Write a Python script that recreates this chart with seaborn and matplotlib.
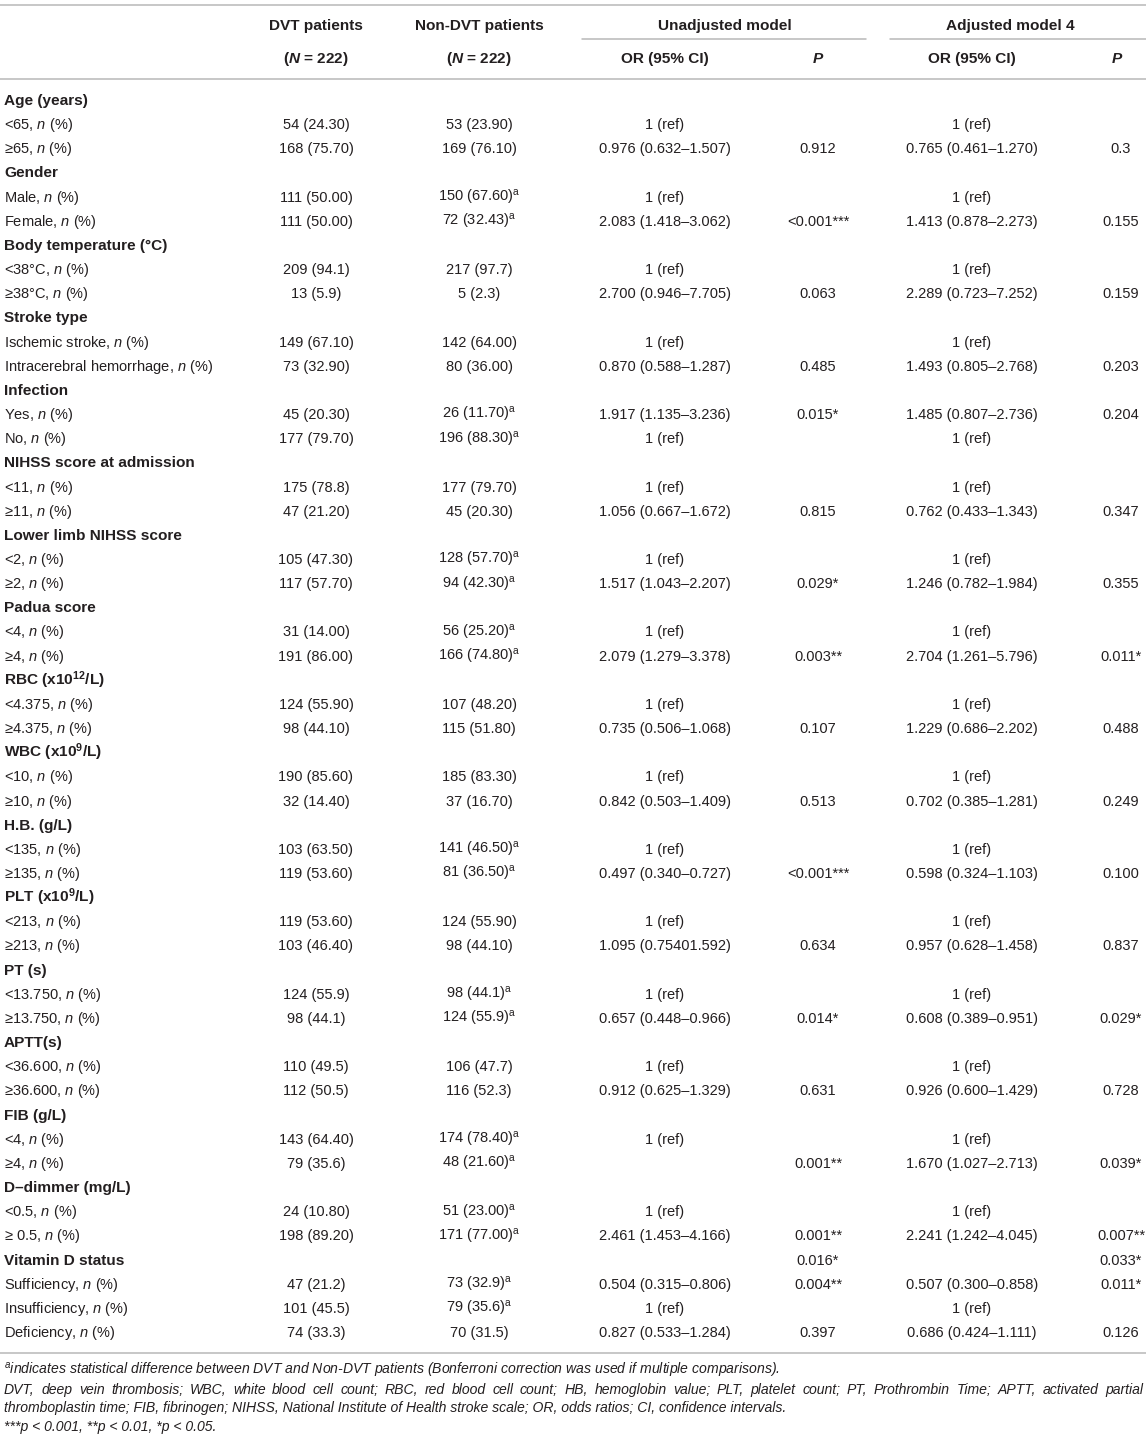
import matplotlib
matplotlib.use("Agg")
import matplotlib.pyplot as plt
import seaborn as sns

# table content, one entry per row
labels = ["Age (years)", "<65", "≥65",
          "Gender", "Male", "Female",
          "Body temperature (°C)", "<38°C", "≥38°C",
          "Stroke type", "Ischemic stroke", "Intracerebral hemorrhage",
          "Infection", "Yes", "No",
          "NIHSS score at admission", "<11", "≥11",
          "Lower limb NIHSS score", "<2", "≥2",
          "Padua score", "<4", "≥4",
          r"RBC (x10$^{\mathbf{12}}$/L)", "<4.375", "≥4.375",
          r"WBC (x10$^{\mathbf{9}}$/L)", "<10", "≥10",
          "H.B. (g/L)", "<135", "≥135",
          r"PLT (x10$^{\mathbf{9}}$/L)", "<213", "≥213",
          "PT (s)", "<13.750", "≥13.750",
          "APTT(s)", "<36.600", "≥36.600",
          "FIB (g/L)", "<4", "≥4",
          "D–dimmer (mg/L)", "<0.5", "≥ 0.5",
          "Vitamin D status", "Sufficiency", "Insufficiency", "Deficiency"]

is_group = [1, 0, 0, 1, 0, 0, 1, 0, 0, 1, 0, 0, 1, 0, 0, 1, 0, 0,
            1, 0, 0, 1, 0, 0, 1, 0, 0, 1, 0, 0, 1, 0, 0, 1, 0, 0,
            1, 0, 0, 1, 0, 0, 1, 0, 0, 1, 0, 0, 1, 0, 0, 0]

dvt = ["", "54 (24.30)", "168 (75.70)",
       "", "111 (50.00)", "111 (50.00)",
       "", "209 (94.1)", "13 (5.9)",
       "", "149 (67.10)", "73 (32.90)",
       "", "45 (20.30)", "177 (79.70)",
       "", "175 (78.8)", "47 (21.20)",
       "", "105 (47.30)", "117 (57.70)",
       "", "31 (14.00)", "191 (86.00)",
       "", "124 (55.90)", "98 (44.10)",
       "", "190 (85.60)", "32 (14.40)",
       "", "103 (63.50)", "119 (53.60)",
       "", "119 (53.60)", "103 (46.40)",
       "", "124 (55.9)", "98 (44.1)",
       "", "110 (49.5)", "112 (50.5)",
       "", "143 (64.40)", "79 (35.6)",
       "", "24 (10.80)", "198 (89.20)",
       "", "47 (21.2)", "101 (45.5)", "74 (33.3)"]

non_dvt = ["", "53 (23.90)", "169 (76.10)",
           "", "150 (67.60)", "72 (32.43)",
           "", "217 (97.7)", "5 (2.3)",
           "", "142 (64.00)", "80 (36.00)",
           "", "26 (11.70)", "196 (88.30)",
           "", "177 (79.70)", "45 (20.30)",
           "", "128 (57.70)", "94 (42.30)",
           "", "56 (25.20)", "166 (74.80)",
           "", "107 (48.20)", "115 (51.80)",
           "", "185 (83.30)", "37 (16.70)",
           "", "141 (46.50)", "81 (36.50)",
           "", "124 (55.90)", "98 (44.10)",
           "", "98 (44.1)", "124 (55.9)",
           "", "106 (47.7)", "116 (52.3)",
           "", "174 (78.40)", "48 (21.60)",
           "", "51 (23.00)", "171 (77.00)",
           "", "73 (32.9)", "79 (35.6)", "70 (31.5)"]

# superscript a = significant difference DVT vs non-DVT
diff_a = [0, 0, 0, 0, 1, 1, 0, 0, 0, 0, 0, 0, 0, 1, 1, 0, 0, 0,
          0, 1, 1, 0, 1, 1, 0, 0, 0, 0, 0, 0, 0, 1, 1, 0, 0, 0,
          0, 1, 1, 0, 0, 0, 0, 1, 1, 0, 1, 1, 0, 1, 1, 0]

unadj_or = ["", "1 (ref)", "0.976 (0.632–1.507)",
            "", "1 (ref)", "2.083 (1.418–3.062)",
            "", "1 (ref)", "2.700 (0.946–7.705)",
            "", "1 (ref)", "0.870 (0.588–1.287)",
            "", "1.917 (1.135–3.236)", "1 (ref)",
            "", "1 (ref)", "1.056 (0.667–1.672)",
            "", "1 (ref)", "1.517 (1.043–2.207)",
            "", "1 (ref)", "2.079 (1.279–3.378)",
            "", "1 (ref)", "0.735 (0.506–1.068)",
            "", "1 (ref)", "0.842 (0.503–1.409)",
            "", "1 (ref)", "0.497 (0.340–0.727)",
            "", "1 (ref)", "1.095 (0.75401.592)",
            "", "1 (ref)", "0.657 (0.448–0.966)",
            "", "1 (ref)", "0.912 (0.625–1.329)",
            "", "1 (ref)", "",
            "", "1 (ref)", "2.461 (1.453–4.166)",
            "", "0.504 (0.315–0.806)", "1 (ref)", "0.827 (0.533–1.284)"]

unadj_p = ["", "", "0.912",
           "", "", "<0.001***",
           "", "", "0.063",
           "", "", "0.485",
           "", "0.015*", "",
           "", "", "0.815",
           "", "", "0.029*",
           "", "", "0.003**",
           "", "", "0.107",
           "", "", "0.513",
           "", "", "<0.001***",
           "", "", "0.634",
           "", "", "0.014*",
           "", "", "0.631",
           "", "", "0.001**",
           "", "", "0.001**",
           "0.016*", "0.004**", "", "0.397"]

adj_or = ["", "1 (ref)", "0.765 (0.461–1.270)",
          "", "1 (ref)", "1.413 (0.878–2.273)",
          "", "1 (ref)", "2.289 (0.723–7.252)",
          "", "1 (ref)", "1.493 (0.805–2.768)",
          "", "1.485 (0.807–2.736)", "1 (ref)",
          "", "1 (ref)", "0.762 (0.433–1.343)",
          "", "1 (ref)", "1.246 (0.782–1.984)",
          "", "1 (ref)", "2.704 (1.261–5.796)",
          "", "1 (ref)", "1.229 (0.686–2.202)",
          "", "1 (ref)", "0.702 (0.385–1.281)",
          "", "1 (ref)", "0.598 (0.324–1.103)",
          "", "1 (ref)", "0.957 (0.628–1.458)",
          "", "1 (ref)", "0.608 (0.389–0.951)",
          "", "1 (ref)", "0.926 (0.600–1.429)",
          "", "1 (ref)", "1.670 (1.027–2.713)",
          "", "1 (ref)", "2.241 (1.242–4.045)",
          "", "0.507 (0.300–0.858)", "1 (ref)", "0.686 (0.424–1.111)"]

adj_p = ["", "", "0.3",
         "", "", "0.155",
         "", "", "0.159",
         "", "", "0.203",
         "", "0.204", "",
         "", "", "0.347",
         "", "", "0.355",
         "", "", "0.011*",
         "", "", "0.488",
         "", "", "0.249",
         "", "", "0.100",
         "", "", "0.837",
         "", "", "0.029*",
         "", "", "0.728",
         "", "", "0.039*",
         "", "", "0.007**",
         "0.033*", "0.011*", "", "0.126"]

footnotes = [
    r"$^{a}$indicates statistical difference between DVT and Non-DVT patients (Bonferroni correction was used if multiple comparisons).",
    "DVT, deep vein thrombosis; WBC, white blood cell count; RBC, red blood cell count; HB, hemoglobin value; PLT, platelet count; PT, Prothrombin Time; APTT, activated partial",
    "thromboplastin time; FIB, fibrinogen; NIHSS, National Institute of Health stroke scale; OR, odds ratios; CI, confidence intervals.",
    "***p < 0.001, **p < 0.01, *p < 0.05.",
]

sns.set_theme(style="white")
plt.rcParams["font.family"] = ["Liberation Sans", "DejaVu Sans"]
plt.rcParams["mathtext.fontset"] = "custom"
plt.rcParams["mathtext.rm"] = "Liberation Sans"
plt.rcParams["mathtext.it"] = "Liberation Sans:italic"
plt.rcParams["mathtext.bf"] = "Liberation Sans:bold"
plt.rcParams["mathtext.bfit"] = "Liberation Sans:bold:italic"

W, H = 1146, 1441
fig = plt.figure(figsize=(W / 100, H / 100), dpi=100)
ax = fig.add_axes([0, 0, 1, 1])
ax.set_xlim(0, W)
ax.set_ylim(H, 0)
ax.axis("off")

txt = "#231f20"
rule = "#b8b8b8"
fs = 10.5
fs_b = 11.1
base = 5  # baseline offset below the row centre (px)

# rules
ax.plot([0, W], [4.5, 4.5], color=rule, lw=1.1)
ax.plot([582, 866], [38.5, 38.5], color=rule, lw=1.1)
ax.plot([890, W], [38.5, 38.5], color=rule, lw=1.1)
ax.plot([0, W], [78.5, 78.5], color=rule, lw=1.1)
ax.plot([0, W], [1353, 1353], color=rule, lw=1.1)

# column centres
cx = [316, 479, 665, 818, 972, 1121]

# header
hkw = dict(fontsize=fs_b, color=txt, ha="center", va="baseline", fontweight="bold")
ax.text(cx[0], 25 + base, "DVT patients", **hkw)
ax.text(cx[1], 25 + base, "Non-DVT patients", **hkw)
ax.text(725, 25 + base, "Unadjusted model", **hkw)
ax.text(1010, 25 + base, "Adjusted model 4", **hkw)
ax.text(cx[0], 58 + base, r"($\mathbfit{N}$ = 222)", **hkw)
ax.text(cx[1], 58 + base, r"($\mathbfit{N}$ = 222)", **hkw)
ax.text(cx[2], 58 + base, "OR (95% CI)", **hkw)
ax.text(cx[4], 58 + base, "OR (95% CI)", **hkw)
ax.text(cx[3], 58 + base, "P", style="italic", **hkw)
ax.text(1117, 58 + base, "P", style="italic", **hkw)

# body
y0, dy = 100, (1332 - 100) / 51
kw = dict(color=txt, va="baseline")
for i, lab in enumerate(labels):
    y = y0 + i * dy + base
    if is_group[i]:
        ax.text(4, y, lab, fontsize=fs_b, fontweight="bold", ha="left", **kw)
    else:
        ax.text(4, y, lab + r", $\mathit{n}$ (%)", fontsize=fs, ha="left", **kw)
    nd = non_dvt[i] + (r"$^{\mathrm{a}}$" if diff_a[i] else "")
    for x, val in zip(cx, [dvt[i], nd, unadj_or[i], unadj_p[i], adj_or[i], adj_p[i]]):
        if val:
            ax.text(x, y, val, fontsize=fs, ha="center", **kw)

# footnotes: size set from the last (unjustified) line of the paragraph
fn_y = [1371, 1390, 1408, 1427]
fkw = dict(style="italic", color=txt, ha="left", va="baseline")
fig.canvas.draw()
r = fig.canvas.get_renderer()
probe = ax.text(4, 0, footnotes[2], fontsize=9, **fkw)
fn_fs = 9 * 786 / probe.get_window_extent(r).width
probe.remove()

for k in (0, 2, 3):
    ax.text(4, fn_y[k] + 4, footnotes[k], fontsize=fn_fs, **fkw)

# line 2 is justified to the full width
words = footnotes[1].split(" ")
wt = [ax.text(0, fn_y[1] + 4, w, fontsize=fn_fs, **fkw) for w in words]
ww = [t.get_window_extent(r).width for t in wt]
gap = (1143 - 4 - sum(ww)) / (len(words) - 1)
x = 4
for t, w in zip(wt, ww):
    t.set_x(x)
    x += w + gap

fig.savefig("out.png", dpi=100)
